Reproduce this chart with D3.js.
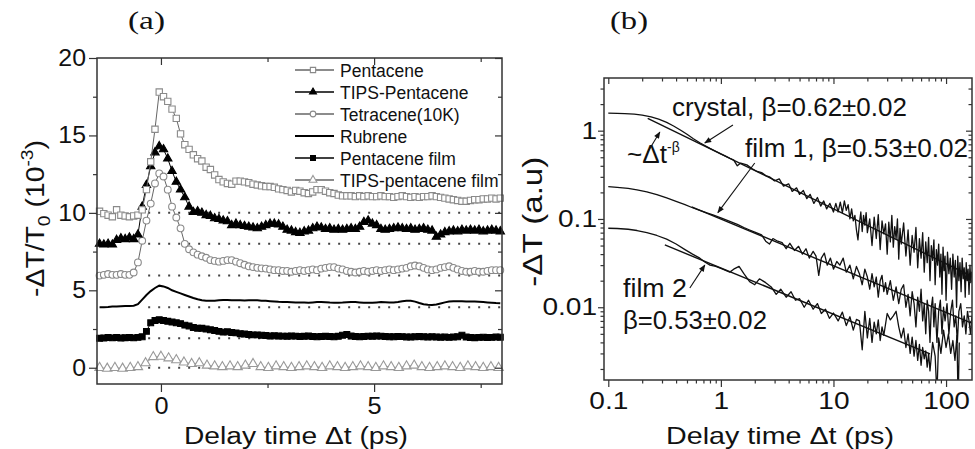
<!DOCTYPE html>
<html><head><meta charset="utf-8">
<script src="https://cdn.jsdelivr.net/npm/d3@7"></script>
<style>body{margin:0;background:#fff}svg{display:block}</style>
</head><body>
<svg id="c" width="975" height="449"></svg>
<script>
// ---------------- Panel (a) data ----------------
const tA = [-1.44,-1.34,-1.24,-1.14,-1.04,-0.94,-0.84,-0.74,-0.64,-0.54,-0.44,-0.34,-0.24,-0.14,-0.04,
 0.06,0.16,0.26,0.36,0.46,0.56,0.66,0.76,0.86,0.96,
 1.06,1.16,1.26,1.36,1.46,1.56,1.66,1.76,1.86,1.96,
 2.06,2.16,2.26,2.36,2.46,2.56,2.66,2.76,2.86,2.96,
 3.06,3.16,3.26,3.36,3.46,3.56,3.66,3.76,3.86,3.96,
 4.06,4.16,4.26,4.36,4.46,4.56,4.66,4.76,4.86,4.96,
 5.06,5.16,5.26,5.36,5.46,5.56,5.66,5.76,5.86,5.96,
 6.06,6.16,6.26,6.36,6.46,6.56,6.66,6.76,6.86,6.96,
 7.06,7.16,7.26,7.36,7.46,7.56,7.66,7.76,7.86,7.96];
const pentacene = [10.1,9.95,9.85,9.75,10.2,9.85,9.8,9.75,9.8,9.85,10.2,11.5,13.3,15.4,17.8,
 17.5,17.2,16.7,16.1,15.1,14.4,14.1,13.75,13.5,13.35,
 12.95,12.8,12.45,12.15,12.0,11.9,11.85,12.05,12.05,12.0,
 11.95,11.85,11.8,11.75,11.7,11.7,11.65,11.55,11.5,11.45,
 11.35,11.45,11.4,11.3,11.25,11.35,11.5,11.5,11.4,11.3,
 11.25,11.15,11.1,11.1,11.1,11.05,11.1,11.05,11.1,11.05,
 11.05,11.1,11.05,11.05,11.0,11.05,11.1,11.05,11.0,11.05,
 11.0,11.05,11.05,11.1,11.05,11.0,10.95,10.9,10.85,10.8,
 10.75,10.75,10.8,10.85,10.85,10.9,10.9,10.95,10.9,10.95];
const tipsPentacene = [8.0,7.95,8.0,7.95,8.25,8.35,8.3,8.4,8.3,8.6,10.4,11.8,13.0,13.9,14.3,
 14.1,13.5,12.7,12.0,11.5,11.0,10.4,10.05,10.1,10.0,
 9.85,9.8,9.65,9.6,9.5,9.45,9.2,9.3,9.2,9.15,
 9.1,9.05,9.0,9.1,9.2,9.3,9.3,9.25,9.1,8.9,
 8.85,8.75,8.7,8.8,8.85,9.0,9.1,9.05,8.95,9.0,
 8.9,8.95,8.9,8.95,9.0,8.95,9.1,9.4,9.5,9.3,
 9.2,8.95,8.9,8.95,9.0,9.05,9.0,8.95,9.0,8.9,
 8.95,9.0,8.9,8.85,8.45,8.6,8.75,8.8,8.85,8.8,
 8.9,8.85,8.9,8.85,8.9,8.8,8.85,8.9,8.85,8.8];
const tetracene = [5.95,6.0,6.05,6.0,6.0,6.05,6.0,6.0,6.15,6.8,8.2,9.5,10.6,11.9,12.55,
 12.35,11.5,10.4,9.7,9.0,8.0,7.65,7.45,7.3,7.2,
 7.1,6.95,6.9,6.85,6.9,6.95,6.95,6.85,6.75,6.65,
 6.55,6.5,6.45,6.42,6.4,6.35,6.3,6.3,6.25,6.25,
 6.2,6.25,6.3,6.25,6.3,6.35,6.3,6.4,6.45,6.5,
 6.5,6.4,6.35,6.25,6.2,6.15,6.2,6.25,6.2,6.25,
 6.3,6.25,6.3,6.35,6.3,6.35,6.4,6.45,6.55,6.6,
 6.55,6.45,6.35,6.3,6.35,6.45,6.5,6.55,6.45,6.35,
 6.25,6.2,6.2,6.25,6.2,6.2,6.25,6.3,6.3,6.3];
const rubrene = [3.9,3.9,3.92,3.95,3.95,3.97,3.98,3.98,4.0,4.1,4.4,4.7,4.95,5.15,5.3,
 5.25,5.15,5.0,4.9,4.8,4.7,4.6,4.5,4.42,4.36,
 4.33,4.32,4.33,4.36,4.38,4.38,4.36,4.35,4.35,4.34,
 4.35,4.36,4.35,4.33,4.32,4.3,4.28,4.26,4.25,4.24,
 4.23,4.22,4.22,4.21,4.2,4.22,4.24,4.25,4.23,4.21,
 4.2,4.2,4.21,4.23,4.25,4.24,4.22,4.2,4.19,4.2,
 4.22,4.24,4.23,4.21,4.22,4.25,4.3,4.33,4.32,4.27,
 4.18,4.1,4.06,4.05,4.08,4.15,4.22,4.27,4.3,4.3,
 4.29,4.28,4.28,4.27,4.26,4.24,4.22,4.2,4.18,4.17];
const pentaceneFilm = [1.9,1.92,1.95,1.93,1.95,1.92,1.94,1.95,1.93,1.96,2.0,2.35,2.9,3.05,3.1,
 3.05,3.0,2.95,2.9,2.85,2.75,2.7,2.6,2.55,2.55,
 2.5,2.45,2.4,2.35,2.3,2.32,2.28,2.25,2.2,2.18,
 2.15,2.12,2.12,2.1,2.08,2.05,2.06,2.05,2.04,2.03,
 2.05,2.04,2.02,2.03,2.05,2.02,2.0,2.02,2.03,2.02,
 2.0,2.03,2.1,2.15,2.05,2.02,2.0,2.02,2.04,2.03,
 2.05,2.04,2.02,2.0,2.0,2.02,2.01,1.99,1.98,2.0,
 2.02,2.0,1.99,2.0,1.98,1.97,1.98,1.96,1.98,2.0,
 2.1,1.98,1.95,1.94,1.96,1.97,1.95,1.96,1.98,1.97];
const tB = [-1.44,-1.26,-1.08,-0.90,-0.72,-0.54,-0.36,-0.18,0.00,
 0.18,0.36,0.54,0.72,0.90,1.08,1.26,1.44,1.62,1.80,1.98,
 2.16,2.34,2.52,2.70,2.88,3.06,3.24,3.42,3.60,3.78,3.96,
 4.14,4.32,4.50,4.68,4.86,5.04,5.22,5.40,5.58,5.76,5.94,
 6.12,6.30,6.48,6.66,6.84,7.02,7.20,7.38,7.56,7.74,7.92];
const tipsFilm = [0.0,-0.05,0.0,-0.05,0.0,0.05,0.3,0.7,0.72,
 0.62,0.5,0.35,0.25,0.3,0.15,0.1,0.05,0.1,0.05,0.15,
 0.25,0.05,0.0,0.1,0.05,0.0,0.05,0.1,0.05,0.0,0.1,
 0.05,0.0,0.05,0.1,0.05,0.0,0.1,0.05,0.0,0.1,0.15,
 0.05,0.0,0.05,0.1,0.05,0.0,0.1,0.05,0.0,0.05,0.0];
const baselines = [10, 8, 5.95, 3.9, 1.9, 0];
const baselineStart = -0.3;
const legendNames = ["Pentacene","TIPS-Pentacene","Tetracene(10K)","Rubrene","Pentacene film","TIPS-pentacene film"];
const xTicksA = [0, 5], xMinorA = [2.5, 7.5];
const yTicksA = [0, 5, 10, 15, 20], yMinorA = [2.5, 7.5, 12.5, 17.5];

// ---------------- Panel (b) data ----------------
const crystalT = [0.10,0.12,0.14,0.17,0.20,0.24,0.28,0.33,0.38,0.44,0.50,0.57,0.65,0.72,0.80,0.90,1.0,1.1,1.2,1.3,
 1.4,1.5,1.7,1.9,2.1,2.3,2.5,2.7,3.0,3.3,3.6,4.0,4.3,4.7,5.0,5.4,5.8,6.2,6.7,7.2,
 7.7,8.2,8.7,9.3,10.0,10.5,11,11.5,12,12.5,13,13.5,14,14.5,15,15.5,16,16.5,17,17.5,
 18,18.5,19,19.5,20,21,22,23,24,25,26,27,28,29,30,31,32,33,34,35,
 36,37,38,39,40,42,44,46,48,50,52,54,56,58,60,62,64,66,68,70,
 72,74,76,78,80,82,84,86,88,90,92,94,96,98,100,103,106,109,112,115,
 118,121,124,127,130,133,136,139,142,145,148,151,154,157,160,163,166,169,172];
const crystalY = [1.58,1.57,1.56,1.54,1.50,1.43,1.35,1.24,1.13,1.01,0.91,0.81,0.73,0.68,0.63,0.585,0.546,0.515,0.487,0.465,
 0.40,0.43,0.41,0.37,0.345,0.335,0.31,0.30,0.27,0.285,0.235,0.25,0.205,0.225,0.19,0.21,0.17,0.19,0.15,0.175,
 0.14,0.16,0.13,0.15,0.12,0.150,0.120,0.155,0.118,0.160,0.125,0.145,0.100,0.130,0.095,0.110,0.075,0.058,0.090,0.120,
 0.072,0.110,0.085,0.118,0.070,0.100,0.050,0.105,0.060,0.112,0.045,0.095,0.068,0.088,0.040,0.092,0.055,0.110,0.048,0.082,
 0.060,0.100,0.035,0.078,0.052,0.090,0.038,0.075,0.030,0.065,0.042,0.080,0.028,0.060,0.036,0.070,0.025,0.055,0.032,0.062,
 0.020,0.050,0.034,0.058,0.018,0.045,0.030,0.052,0.022,0.040,0.014,0.048,0.026,0.038,0.012,0.042,0.024,0.036,0.016,0.040,
 0.022,0.034,0.010,0.038,0.020,0.032,0.015,0.036,0.021,0.028,0.013,0.032,0.020,0.027,0.014,0.030,0.019,0.025,0.022];
const film1T = [0.10,0.12,0.15,0.18,0.22,0.27,0.33,0.40,0.48,0.56,0.65,0.75,0.85,1.0,1.2,1.4,1.6,1.8,2.0,2.3,
 2.5,2.7,2.9,3.2,3.5,3.8,4.1,4.5,4.9,5.3,5.7,6.1,6.6,7.0,7.4,7.8,8.3,8.8,9.4,10,
 10.7,11.4,12.2,13,14,15,16,17,18,19,20,21,22,23,24,25,26,27,28,29,
 30,32,34,36,38,40,42,44,46,48,50,52,54,56,58,60,62,64,66,68,
 70,72,74,76,78,80,83,86,89,92,95,98,102,106,110,114,118,122,126,130,
 135,140,145,150,155,160,165,170];
const film1Y = [0.232,0.228,0.222,0.214,0.203,0.189,0.173,0.158,0.145,0.134,0.125,0.117,0.111,0.103,0.094,0.087,0.080,0.075,0.071,0.066,
 0.056,0.052,0.060,0.056,0.054,0.046,0.053,0.044,0.049,0.040,0.046,0.036,0.043,0.038,0.023,0.036,0.041,0.030,0.036,0.027,
 0.033,0.030,0.036,0.025,0.030,0.021,0.029,0.024,0.018,0.027,0.022,0.016,0.024,0.017,0.022,0.013,0.020,0.023,0.015,0.019,
 0.014,0.020,0.012,0.017,0.011,0.016,0.018,0.010,0.014,0.008,0.015,0.011,0.006,0.013,0.009,0.016,0.007,0.011,0.005,0.012,
 0.009,0.004,0.010,0.013,0.006,0.011,0.004,0.009,0.012,0.005,0.010,0.007,0.011,0.005,0.009,0.012,0.006,0.008,0.004,0.009,
 0.011,0.006,0.008,0.005,0.009,0.007,0.005,0.008];
const film2T = [0.10,0.12,0.15,0.18,0.22,0.27,0.33,0.40,0.48,0.56,0.65,0.72,0.80,0.9,1.0,1.2,1.3,1.45,1.6,1.8,
 2.0,2.2,2.5,2.8,3.1,3.4,3.8,4.2,4.6,5.0,5.5,6.0,6.6,7.2,7.8,8.5,9.2,10,11,12,
 13,14,15,16,17,18,19,20,21,22,23,24,25,26,27,28,30,32,34,36,
 38,40,42,44,46,48,50,52,54,56,58,60,62,64,66,68,70,72,76,80,
 83,86,90,95,100,105,110,115,120,125,128,131];
const film2Y = [0.0785,0.078,0.0765,0.074,0.070,0.065,0.059,0.052,0.045,0.040,0.036,0.0325,0.030,0.029,0.0275,0.025,0.027,0.029,0.024,0.0195,
 0.018,0.021,0.019,0.017,0.014,0.016,0.013,0.015,0.012,0.0125,0.010,0.012,0.0095,0.011,0.0085,0.0095,0.0075,0.0086,0.0070,0.0088,
 0.0062,0.0078,0.0055,0.0073,0.0070,0.0033,0.0090,0.0045,0.0075,0.0040,0.0068,0.0050,0.0072,0.0042,0.0060,0.0048,0.0085,0.0072,0.0080,0.0090,
 0.0060,0.0045,0.0058,0.0035,0.0050,0.0030,0.0046,0.0028,0.0042,0.0025,0.0038,0.0022,0.0035,0.0026,0.0032,0.0021,0.0030,0.0019,0.0040,0.0028,
 0.0010,0.0045,0.0030,0.0055,0.0035,0.0050,0.0030,0.0042,0.0025,0.0048,0.0008,0.0040];
// power-law fits, as end points (t, value)
const crystalFitT = [0.224, 172], crystalFitY = [1.38, 0.0222];
const film1FitT = [0.55, 172], film1FitY = [0.137, 0.00654];
const film2FitT = [0.318, 72], film2FitY = [0.0508, 0.00296];
const xTicksB = [0.1, 1, 10, 100];
const yTicksB = [0.01, 0.1, 1];
// annotation arrows in data units: [t, value]
const arrowsB = [
  {from: [1.28, 1.16], to: [0.72, 0.726]},
  {from: [0.224, 0.574], to: [0.287, 0.966]},
  {from: [2.0, 0.43], to: [0.94, 0.118]},
  {from: [0.53, 0.0165], to: [0.72, 0.030]}
];

// ---------------- drawing ----------------
const SANS = '"Liberation Sans", Arial, Helvetica, sans-serif';
const SERIF = '"Liberation Serif", "Times New Roman", serif';
const AX = '#333';
const svg = d3.select('#c');
const defs = svg.append('defs');
defs.append('marker').attr('id','arr').attr('viewBox','0 0 10 10').attr('refX',9).attr('refY',5)
  .attr('markerWidth',8).attr('markerHeight',7).attr('markerUnits','userSpaceOnUse').attr('orient','auto')
  .append('path').attr('d','M0,1 L10,5 L0,9 Z').attr('fill','#111');

function fitText(parent, x, y, rot, anchor, size, family, target, build) {
  const g = parent.append('g');
  const t = g.append('text').attr('font-size', size).attr('font-family', family)
    .attr('text-anchor', anchor).attr('fill', '#111');
  if (typeof build === 'string') t.text(build); else build(t);
  let s = 1;
  if (target) { const w = t.node().getBBox().width; if (w > 0) s = target / w; }
  g.attr('transform', `translate(${x},${y}) rotate(${rot}) scale(${s},1)`);
  return g;
}
function styleAxis(g, stretch) {
  g.select('.domain').remove();
  g.selectAll('line').attr('stroke', AX).attr('stroke-width', 1.2);
  g.selectAll('text').attr('font-size', 23).attr('font-family', SANS).attr('fill', '#111')
    .each(function () {
      if (!stretch) return;
      const w = this.getComputedTextLength();
      d3.select(this).attr('textLength', w * stretch).attr('lengthAdjust', 'spacingAndGlyphs');
    });
}
function frame(x, y, stroke) {
  const [x0, x1] = x.range(), [y0, y1] = y.range();
  svg.append('rect').attr('x', x0).attr('y', y1).attr('width', x1 - x0).attr('height', y0 - y1)
    .attr('fill', 'none').attr('stroke', stroke).attr('stroke-width', 1.5);
}

// ===== Panel (a) =====
const xa = d3.scaleLinear().domain([-1.5, 8]).range([97, 502]);
const ya = d3.scaleLinear().domain([-1.05, 20]).range([384, 58]);
const ga = svg.append('g');

ga.selectAll('line.base').data(baselines).join('line')
  .attr('x1', xa(baselineStart)).attr('x2', xa(8)).attr('y1', d => ya(d)).attr('y2', d => ya(d))
  .attr('stroke', '#444').attr('stroke-width', 2).attr('stroke-dasharray', '2,8').attr('stroke-linecap','butt');

const seriesA = [
  {name: legendNames[0], t: tA, v: pentacene, sym: d3.symbolSquare, size: 40, fill: '#fff', stroke: '#8a8a8a', line: '#666', lw: 1},
  {name: legendNames[1], t: tA, v: tipsPentacene, sym: d3.symbolTriangle, size: 30, fill: '#000', stroke: '#000', line: '#000', lw: 1},
  {name: legendNames[2], t: tA, v: tetracene, sym: d3.symbolCircle, size: 36, fill: '#fff', stroke: '#8a8a8a', line: '#666', lw: 1},
  {name: legendNames[3], t: tA, v: rubrene, sym: null, line: '#000', lw: 2},
  {name: legendNames[4], t: tA, v: pentaceneFilm, sym: d3.symbolSquare, size: 34, fill: '#000', stroke: '#000', line: '#000', lw: 1},
  {name: legendNames[5], t: tB, v: tipsFilm, sym: d3.symbolTriangle, size: 38, fill: '#fff', stroke: '#999', line: '#999', lw: 1}
];
const drawOrder = [5, 4, 3, 2, 1, 0];
drawOrder.forEach(i => {
  const s = seriesA[i];
  const idx = d3.range(s.v.length);
  const line = d3.line().x(k => xa(s.t[k])).y(k => ya(s.v[k]));
  ga.append('path').attr('d', line(idx)).attr('fill', 'none').attr('stroke', s.line).attr('stroke-width', s.lw);
  if (s.sym) {
    const p = d3.symbol().type(s.sym).size(s.size)();
    ga.append('g').selectAll('path').data(idx).join('path')
      .attr('d', p).attr('transform', k => `translate(${xa(s.t[k])},${ya(s.v[k])})`)
      .attr('fill', s.fill).attr('stroke', s.stroke).attr('stroke-width', 1.1);
  }
});

// legend
const leg = svg.append('g');
seriesA.forEach((s, i) => {
  const cy = 70 + i * 22;
  leg.append('line').attr('x1', 295).attr('x2', 334).attr('y1', cy).attr('y2', cy)
    .attr('stroke', i === 3 ? '#000' : (s.fill === '#000' ? '#000' : '#666')).attr('stroke-width', i === 3 ? 2 : 1.3);
  if (s.sym) {
    leg.append('path').attr('d', d3.symbol().type(s.sym).size(s.size * 0.7)())
      .attr('transform', `translate(313,${cy})`).attr('fill', s.fill).attr('stroke', s.stroke).attr('stroke-width', 1.1);
  }
  leg.append('text').attr('x', 340).attr('y', cy + 6.5).attr('font-size', 17.5).attr('font-family', SANS)
    .attr('fill', '#111').text(s.name);
});

// axes (a)
const fmtA = d3.format('d');
let g;
g = svg.append('g').attr('transform', `translate(97,0)`).call(d3.axisLeft(ya).tickValues(yTicksA).tickSize(8).tickPadding(3).tickFormat(fmtA)); styleAxis(g, 1.08);
g = svg.append('g').attr('transform', `translate(97,0)`).call(d3.axisLeft(ya).tickValues(yMinorA).tickSize(4).tickFormat('')); styleAxis(g);
g = svg.append('g').attr('transform', `translate(502,0)`).call(d3.axisLeft(ya).tickValues(yTicksA).tickSize(7).tickFormat('')); styleAxis(g);
g = svg.append('g').attr('transform', `translate(502,0)`).call(d3.axisLeft(ya).tickValues(yMinorA).tickSize(4).tickFormat('')); styleAxis(g);
g = svg.append('g').attr('transform', `translate(0,384)`).call(d3.axisBottom(xa).tickValues(xTicksA).tickSize(8).tickPadding(6).tickFormat(fmtA)); styleAxis(g, 1.1);
g = svg.append('g').attr('transform', `translate(0,384)`).call(d3.axisBottom(xa).tickValues(xMinorA).tickSize(4).tickFormat('')); styleAxis(g);
g = svg.append('g').attr('transform', `translate(0,58)`).call(d3.axisBottom(xa).tickValues(xTicksA).tickSize(7).tickFormat('')); styleAxis(g);
g = svg.append('g').attr('transform', `translate(0,58)`).call(d3.axisBottom(xa).tickValues(xMinorA).tickSize(4).tickFormat('')); styleAxis(g);
frame(xa, ya, AX);

fitText(svg, 296, 444, 0, 'middle', 23, SANS, 224, 'Delay time Δt (ps)');
fitText(svg, 44, 218.5, -90, 'middle', 25, SANS, 157, t => {
  t.append('tspan').text('-ΔT/T');
  t.append('tspan').attr('font-size', 17).attr('dy', 6).text('0');
  t.append('tspan').attr('dy', -6).text(' (10');
  t.append('tspan').attr('font-size', 17).attr('dy', -11).text('-3');
  t.append('tspan').attr('dy', 11).text(')');
});
fitText(svg, 128, 29, 0, 'start', 26, SERIF, 37, '(a)');

// ===== Panel (b) =====
const xb = d3.scaleLog().domain([0.0916, 170]).range([604, 972]);
const yb = d3.scaleLog().domain([0.0015, 3.95]).range([380, 78]);
defs.append('clipPath').attr('id', 'clipb').append('rect').attr('x', 604).attr('y', 78).attr('width', 368).attr('height', 302);
const gb = svg.append('g').attr('clip-path', 'url(#clipb)');
const lineB = (T, Y) => d3.line().x(k => xb(T[k])).y(k => yb(Math.max(Y[k], 1e-4)))(d3.range(T.length));
[[crystalT, crystalY], [film1T, film1Y], [film2T, film2Y]].forEach(([T, Y]) => {
  gb.append('path').attr('d', lineB(T, Y)).attr('fill', 'none').attr('stroke', '#111').attr('stroke-width', 1.3).attr('stroke-linejoin', 'round');
});
[[crystalFitT, crystalFitY], [film1FitT, film1FitY], [film2FitT, film2FitY]].forEach(([T, Y]) => {
  gb.append('path').attr('d', lineB(T, Y)).attr('fill', 'none').attr('stroke', '#111').attr('stroke-width', 1.4);
});
arrowsB.forEach(a => {
  svg.append('line').attr('x1', xb(a.from[0])).attr('y1', yb(a.from[1])).attr('x2', xb(a.to[0])).attr('y2', yb(a.to[1]))
    .attr('stroke', '#111').attr('stroke-width', 1.1).attr('marker-end', 'url(#arr)');
});

const minorX = [], minorY = [];
[0.1, 1, 10, 100].forEach(d => { for (let k = 2; k <= 9; k++) { const v = d * k; if (v >= 0.0916 && v <= 170) minorX.push(v); } });
[0.001, 0.01, 0.1, 1].forEach(d => { for (let k = 2; k <= 9; k++) { const v = d * k; if (v >= 0.0015 && v <= 3.95) minorY.push(v); } });
const fmtB = d => String(d);
g = svg.append('g').attr('transform', `translate(604,0)`).call(d3.axisLeft(yb).tickValues(yTicksB).tickSize(6).tickPadding(1).tickFormat(fmtB)); styleAxis(g, 1.22);
g = svg.append('g').attr('transform', `translate(604,0)`).call(d3.axisLeft(yb).tickValues(minorY).tickSize(3.5).tickFormat('')); styleAxis(g);
g = svg.append('g').attr('transform', `translate(972,0)`).call(d3.axisLeft(yb).tickValues(yTicksB).tickSize(6).tickFormat('')); styleAxis(g);
g = svg.append('g').attr('transform', `translate(972,0)`).call(d3.axisLeft(yb).tickValues(minorY).tickSize(3.5).tickFormat('')); styleAxis(g);
g = svg.append('g').attr('transform', `translate(0,380)`).call(d3.axisBottom(xb).tickValues(xTicksB).tickSize(7).tickPadding(6).tickFormat(fmtB)); styleAxis(g, 1.22);
g = svg.append('g').attr('transform', `translate(0,380)`).call(d3.axisBottom(xb).tickValues(minorX).tickSize(3.5).tickFormat('')); styleAxis(g);
g = svg.append('g').attr('transform', `translate(0,78)`).call(d3.axisBottom(xb).tickValues(xTicksB).tickSize(6).tickFormat('')); styleAxis(g);
g = svg.append('g').attr('transform', `translate(0,78)`).call(d3.axisBottom(xb).tickValues(minorX).tickSize(3.5).tickFormat('')); styleAxis(g);
frame(xb, yb, AX);

fitText(svg, 780, 444, 0, 'middle', 23, SANS, 228, 'Delay time Δt (ps)');
fitText(svg, 542, 221.7, -90, 'middle', 27, SANS, 130, '-ΔT (a.u)');
fitText(svg, 610, 29, 0, 'start', 26, SERIF, 38, '(b)');

fitText(svg, 672, 116, 0, 'start', 25, SANS, 235, 'crystal, β=0.62±0.02');
fitText(svg, 745, 157, 0, 'start', 25, SANS, 223, 'film 1, β=0.53±0.02');
fitText(svg, 627, 163, 0, 'start', 25, SANS, 40, '~Δt');
fitText(svg, 667, 152, 0, 'start', 15, SANS, 13, '-β');
fitText(svg, 623, 297, 0, 'start', 25, SANS, 64, 'film 2');
fitText(svg, 623, 329, 0, 'start', 25, SANS, 144, 'β=0.53±0.02');
</script>
</body></html>
